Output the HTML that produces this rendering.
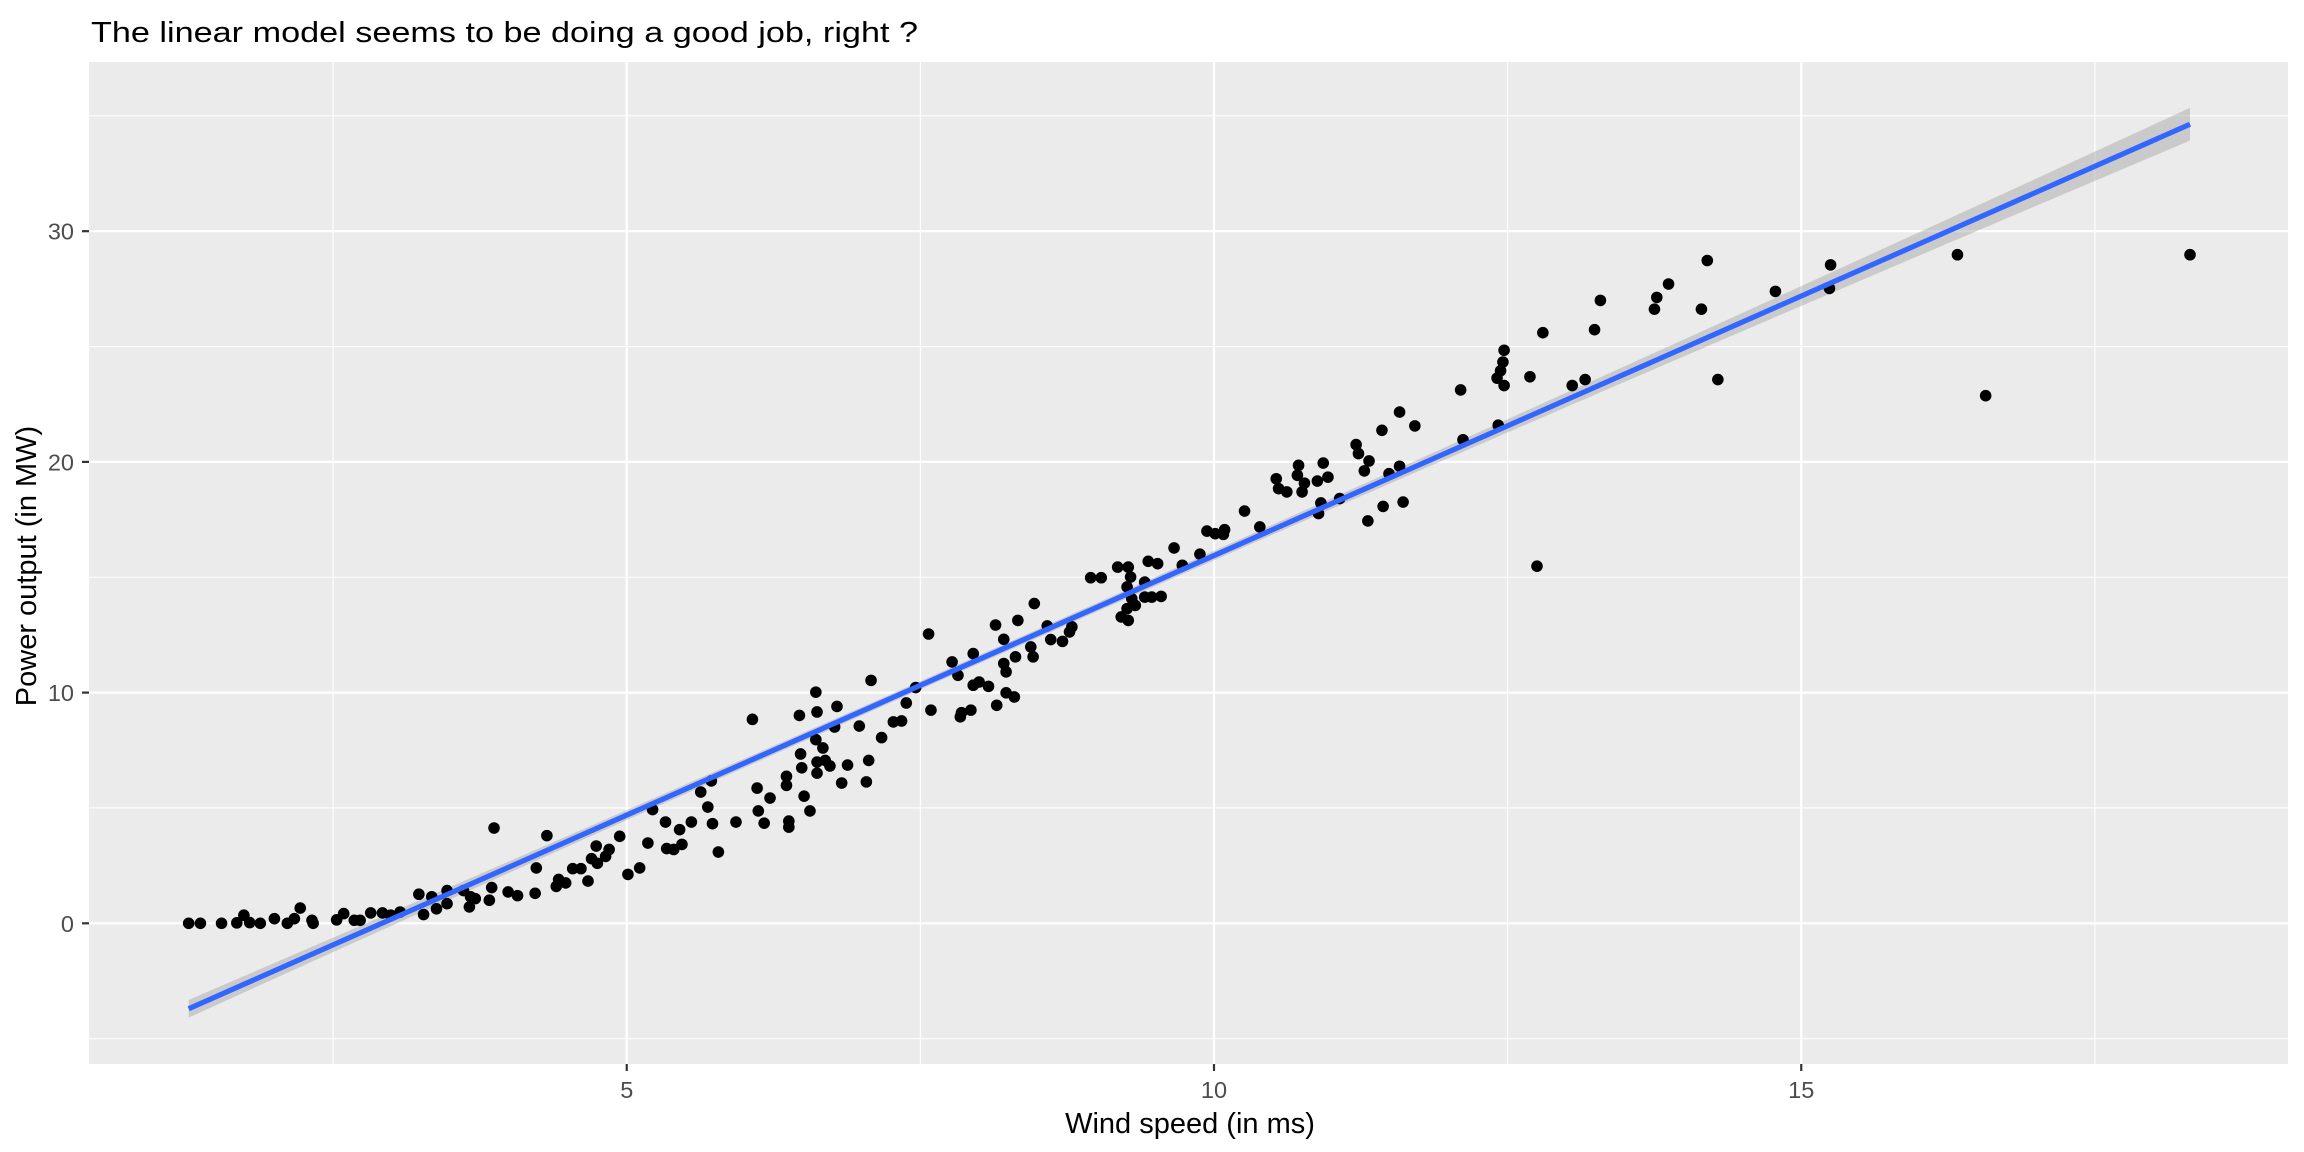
<!DOCTYPE html>
<html><head><meta charset="utf-8"><style>
html,body{margin:0;padding:0;background:#fff;}
svg{display:block;font-family:"Liberation Sans",Arial,sans-serif;}
</style></head><body>
<svg id="chart" width="2304" height="1152" viewBox="0 0 2304 1152" xmlns="http://www.w3.org/2000/svg">
<text x="91" y="42" font-size="29" fill="#000" textLength="827" lengthAdjust="spacingAndGlyphs">The linear model seems to be doing a good job, right ?</text>
<rect x="89" y="62" width="2199" height="1002" fill="#ebebeb"/>
<g id="grid"></g>
<g id="band"></g>
<g id="pts"></g>
<g id="fit"></g>
<g id="axes"></g>
<text x="1190" y="1133" font-size="29" text-anchor="middle" fill="#000">Wind speed (in ms)</text>
<text transform="translate(36,566) rotate(-90)" font-size="29" text-anchor="middle" fill="#000">Power output (in MW)</text>
</svg>
<script>
const xTicks = [5, 10, 15];
const yTicks = [0, 10, 20, 30];
const xMinor = [2.5, 7.5, 12.5, 17.5];
const yMinor = [-5, 5, 15, 25, 35];
const windSpeed = [1.27,1.37,1.55,1.68,1.74,1.79,1.88,2.0,2.11,2.17,2.22,2.32,2.33,2.53,2.59,2.68,2.73,2.82,2.92,2.99,3.07,3.23,3.27,3.34,3.38,3.47,3.47,3.61,3.66,3.67,3.71,3.83,3.85,3.87,3.99,4.07,4.22,4.23,4.32,4.4,4.42,4.48,4.54,4.61,4.67,4.7,4.74,4.75,4.82,4.85,4.94,5.01,5.11,5.18,
5.22,5.33,5.34,5.4,5.45,5.47,5.55,5.63,5.69,5.72,5.73,5.78,5.93,6.07,6.11,6.12,6.17,6.22,6.36,6.36,6.38,6.38,6.47,6.48,6.49,6.51,6.56,6.61,6.61,6.62,6.62,6.62,6.67,6.69,6.73,6.77,6.79,6.83,6.88,6.98,7.04,7.06,7.08,7.17,7.27,7.34,7.38,7.46,7.57,7.59,7.77,7.82,7.84,7.85,7.93,7.95,7.95,8.0,8.08,8.14,8.15,8.21,8.21,8.23,8.23,8.3,8.31,8.33,8.44,8.46,8.47,8.58,8.61,8.71,8.77,8.79,
8.95,9.04,9.18,9.27,9.29,9.26,9.21,9.27,9.26,9.33,9.3,9.41,9.44,9.52,9.47,9.41,9.55,9.66,9.73,9.88,9.94,10.01,10.08,10.09,10.26,10.39,10.53,10.55,10.62,10.71,10.72,10.75,10.77,10.88,10.89,10.91,10.93,10.97,11.07,11.21,11.23,11.28,11.32,11.31,11.43,11.44,11.49,11.58,11.58,11.61,11.71,
12.12,12.1,12.42,12.41,12.44,12.46,12.47,12.47,12.69,12.75,12.8,13.05,13.16,13.24,13.29,13.75,13.77,13.87,14.15,14.2,14.29,14.78,15.24,15.25,16.33,16.57,18.31];
const powerOutput = [0,0,0,0.02,0.35,0.03,0,0.2,0,0.2,0.66,0.13,0,0.15,0.42,0.13,0.13,0.45,0.45,0.35,0.49,1.26,0.38,1.15,0.63,1.42,0.85,1.42,0.71,1.15,1.07,1.0,1.55,4.13,1.36,1.2,1.3,2.4,3.8,1.6,1.9,1.75,2.37,2.37,1.83,2.8,3.35,2.6,2.9,3.2,3.77,2.12,2.4,3.48,
4.93,4.39,3.24,3.2,4.06,3.42,4.39,5.69,5.04,6.17,4.32,3.09,4.39,8.84,5.86,4.87,4.34,5.43,5.98,6.37,4.43,4.17,9.01,7.34,6.74,5.51,4.87,10.02,7.96,9.16,6.99,6.51,7.6,7.06,6.82,8.51,9.4,6.08,6.86,8.55,6.13,7.06,10.53,8.05,8.73,8.77,9.55,10.22,12.54,9.24,11.33,10.75,8.95,9.13,9.24,11.69,10.32,10.46,10.27,12.93,9.45,11.26,12.31,10.9,9.99,9.81,11.55,13.13,11.98,11.55,13.86,12.89,12.3,12.22,12.63,12.85,
14.98,14.98,15.44,15.44,15.01,14.58,13.28,13.13,13.64,13.78,14.07,14.79,15.69,15.59,14.14,14.14,14.17,16.27,15.52,16.0,17.0,16.89,16.86,17.06,17.87,17.18,19.27,18.84,18.7,19.42,19.85,18.7,19.08,19.17,17.76,18.22,19.95,19.34,18.41,20.75,20.36,19.61,20.04,17.44,21.37,18.07,19.49,22.16,19.81,18.26,21.56,
20.96,23.12,21.59,23.63,23.95,24.33,24.84,23.31,23.69,15.48,25.6,23.31,23.57,25.73,27.0,26.62,27.13,27.71,26.62,28.73,23.57,27.39,27.52,28.54,28.98,22.87,28.98];
const fitRange = [1.27, 18.31];
const fitIntercept = -6.56;
const fitSlope = 2.25;

const NS = "http://www.w3.org/2000/svg";
const X = v => 39.5 + v * 117.45;
const Y = v => 923.3 - v * 23.07;
const L = 89, R = 2288, T = 62, B = 1064;
function mk(tag, attrs, parent) {
  const e = document.createElementNS(NS, tag);
  for (const k in attrs) e.setAttribute(k, attrs[k]);
  parent.appendChild(e);
  return e;
}
const grid = document.getElementById('grid');
xMinor.forEach(v => {
  const l = mk('line', {x1: X(v), x2: X(v), y1: T, y2: B, stroke: '#fff', 'stroke-width': 1.1}, grid);
  
  
});
yMinor.forEach(v => {
  const l = mk('line', {x1: L, x2: R, y1: Y(v), y2: Y(v), stroke: '#fff', 'stroke-width': 1.1}, grid);
  
  
});
const axes = document.getElementById('axes');
xTicks.forEach(v => {
  const l = mk('line', {x1: X(v), x2: X(v), y1: T, y2: B, stroke: '#fff', 'stroke-width': 2.2}, grid);
  
  
  const t = mk('line', {x1: X(v), x2: X(v), y1: B, y2: B + 7, stroke: '#333', 'stroke-width': 2.2}, axes);
  
  
  const tx = mk('text', {x: X(v), y: B + 34, 'font-size': 23.5, fill: '#4d4d4d', 'text-anchor': 'middle'}, axes);
  tx.textContent = v;
  
  
});
yTicks.forEach(v => {
  const l = mk('line', {x1: L, x2: R, y1: Y(v), y2: Y(v), stroke: '#fff', 'stroke-width': 2.2}, grid);
  
  
  const t = mk('line', {x1: L - 7, x2: L, y1: Y(v), y2: Y(v), stroke: '#333', 'stroke-width': 2.2}, axes);
  
  
  const tx = mk('text', {x: 74, y: Y(v) + 8.5, 'font-size': 23.5, fill: '#4d4d4d', 'text-anchor': 'end'}, axes);
  tx.textContent = v;
  
  
});
const band = document.getElementById('band');
const mean = (windSpeed.reduce((a, b) => a + b, 0)) / windSpeed.length;
const se = x => 0.18 + 0.0048 * (x - mean) * (x - mean);
const up = [], dn = [];
for (let i = 0; i <= 40; i++) {
  const x = fitRange[0] + (fitRange[1] - fitRange[0]) * i / 40;
  const y = fitIntercept + fitSlope * x;
  up.push(X(x) + ',' + Y(y + se(x)));
  dn.unshift(X(x) + ',' + Y(y - se(x)));
}
const poly = mk('polygon', {points: up.concat(dn).join(' '), fill: '#999', 'fill-opacity': 0.4}, band);


const pts = document.getElementById('pts');
windSpeed.forEach((x, i) => {
  const c = mk('circle', {cx: X(x), cy: Y(powerOutput[i]), r: 5.8, fill: '#000'}, pts);
  
  
});
const fit = document.getElementById('fit');
const fl = mk('line', {x1: X(fitRange[0]), y1: Y(fitIntercept + fitSlope * fitRange[0]), x2: X(fitRange[1]), y2: Y(fitIntercept + fitSlope * fitRange[1]), stroke: '#3366ff', 'stroke-width': 5.2}, fit);


</script>
</body></html>
